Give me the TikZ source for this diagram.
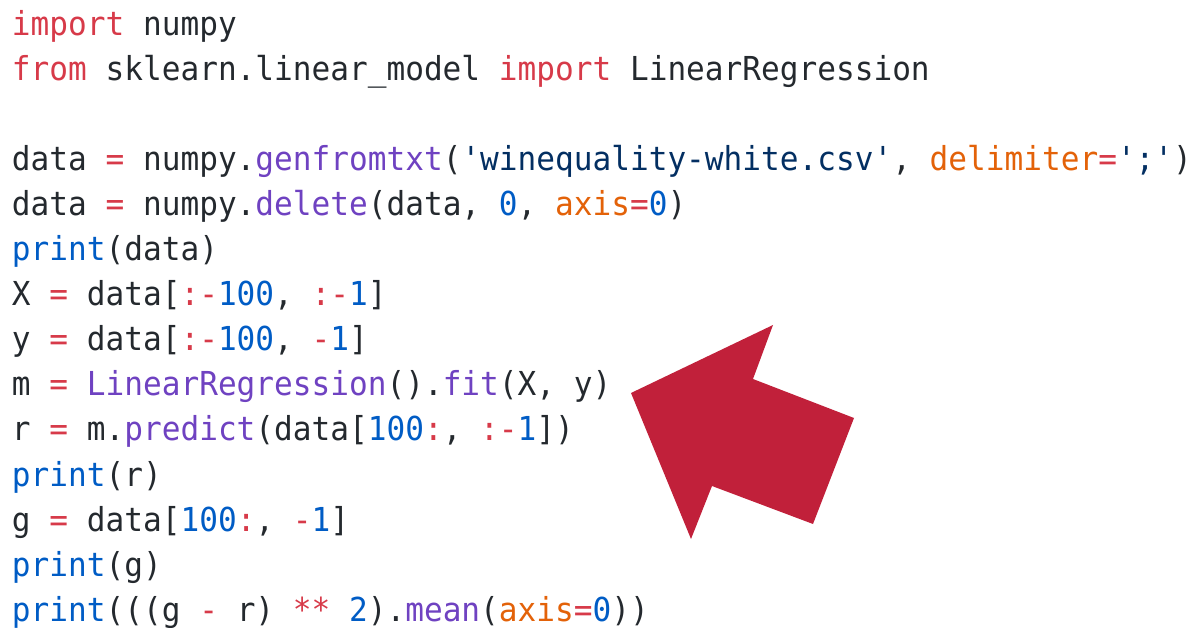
\documentclass[tikz,border=0pt]{standalone}
\usepackage{fontspec}
\setmonofont[FakeStretch=0.9427]{DejaVu Sans Mono}
\definecolor{kw}{HTML}{D73A49}
\definecolor{fn}{HTML}{6F42C1}
\definecolor{num}{HTML}{005CC5}
\definecolor{arg}{HTML}{E36209}
\definecolor{str}{HTML}{032F62}
\definecolor{txt}{HTML}{24292E}
\definecolor{arrowred}{HTML}{C1203A}
\newcommand{\K}[1]{\textcolor{kw}{#1}}
\newcommand{\F}[1]{\textcolor{fn}{#1}}
\newcommand{\N}[1]{\textcolor{num}{#1}}
\newcommand{\A}[1]{\textcolor{arg}{#1}}
\newcommand{\St}[1]{\textcolor{str}{#1}}
\tikzset{
  codeline/.style={anchor=base west, inner sep=0pt, outer sep=0pt, text=txt,
    font=\ttfamily\fontsize{33}{45}\selectfont},
  bigarrow/.style={fill=arrowred, draw=none}
}
\begin{document}
\begin{tikzpicture}[x=1pt,y=1pt]
\useasboundingbox (0,0) rectangle (1194,627);
\node[codeline] (l1) at (12,591) {\K{import} numpy};
\node[codeline] (l2) at (12,546) {\K{from} sklearn.linear\_model \K{import} LinearRegression};
\node[codeline] (l4) at (12,456) {data \K{=} numpy.\F{genfromtxt}(\St{'winequality-white.csv'}, \A{delimiter}\K{=}\St{';'})};
\node[codeline] (l5) at (12,411) {data \K{=} numpy.\F{delete}(data, \N{0}, \A{axis}\K{=}\N{0})};
\node[codeline] (l6) at (12,366) {\N{print}(data)};
\node[codeline] (l7) at (12,321) {X \K{=} data[\K{:-}\N{100}, \K{:-}\N{1}]};
\node[codeline] (l8) at (12,276) {y \K{=} data[\K{:-}\N{100}, \K{-}\N{1}]};
\node[codeline] (l9) at (12,231) {m \K{=} \F{LinearRegression}().\F{fit}(X, y)};
\node[codeline] (l10) at (12,186) {r \K{=} m.\F{predict}(data[\N{100}\K{:}, \K{:-}\N{1}])};
\node[codeline] (l11) at (12,141) {\N{print}(r)};
\node[codeline] (l12) at (12,96) {g \K{=} data[\N{100}\K{:}, \K{-}\N{1}]};
\node[codeline] (l13) at (12,51) {\N{print}(g)};
\node[codeline] (l14) at (12,6) {\N{print}(((g \K{-} r) \K{**} \N{2}).\F{mean}(\A{axis}\K{=}\N{0}))};
\fill[bigarrow] (631,234) -- (773,302) -- (753,248) -- (854,209) -- (813,103) -- (712,141) -- (691,88) -- cycle;
\end{tikzpicture}
\end{document}
